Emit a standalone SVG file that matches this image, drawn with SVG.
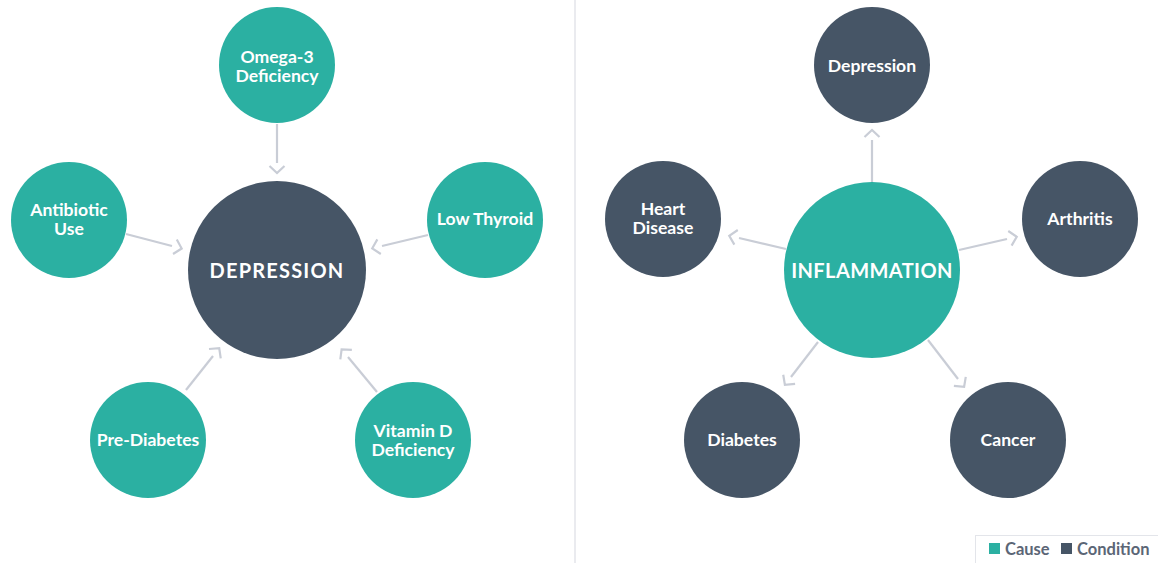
<svg xmlns="http://www.w3.org/2000/svg" width="1158" height="563" viewBox="0 0 1158 563">
<defs>
<style>
.cause{fill:#2bb0a2}
.cond{fill:#465566}
.lbl{font-family:Lato,"Open Sans","Liberation Sans",sans-serif;font-weight:bold;font-size:17.6px;fill:#ffffff;text-anchor:middle}
.big{font-family:Lato,"Open Sans","Liberation Sans",sans-serif;font-weight:bold;font-size:20px;letter-spacing:1.2px;fill:#ffffff;text-anchor:middle}
.conn line{stroke:#c9cdd6;stroke-width:2.2;marker-end:url(#chev)}
.leg{font-family:Lato,"Open Sans","Liberation Sans",sans-serif;font-weight:bold;font-size:16.5px;fill:#5b6676}
</style>
<marker id="chev" markerUnits="userSpaceOnUse" markerWidth="30" markerHeight="30" refX="0" refY="0" viewBox="-15 -15 30 30" orient="auto" overflow="visible">
<path d="M3,-7.5 L10,0 L3,7.5" fill="none" stroke="#c9cdd6" stroke-width="2.2"/>
</marker>
</defs>
<rect width="1158" height="563" fill="#ffffff"/>
<line x1="575" y1="0" x2="575" y2="563" stroke="#e3e5ea" stroke-width="1.5"/>
<g class="conn" id="connectors">
<line x1="277" y1="124" x2="277" y2="163"/>
<line x1="126" y1="234" x2="172" y2="246"/>
<line x1="428" y1="235" x2="382" y2="246"/>
<line x1="186" y1="390" x2="213" y2="356"/>
<line x1="377" y1="392" x2="348" y2="357"/>
<line x1="872" y1="182" x2="872" y2="140"/>
<line x1="786" y1="249" x2="739" y2="238"/>
<line x1="959" y1="250" x2="1007" y2="239"/>
<line x1="818" y1="342" x2="791" y2="377"/>
<line x1="928" y1="340" x2="958" y2="379"/>
</g>
<g id="depression-main"><circle class="cond" cx="277" cy="270" r="89"/><text class="big" x="277" y="278">DEPRESSION</text></g>
<g id="omega3"><circle class="cause" cx="277" cy="65" r="58"/><text class="lbl" x="277" y="63">Omega-3</text><text class="lbl" x="277" y="82">Deficiency</text></g>
<g id="antibiotic"><circle class="cause" cx="69" cy="220" r="58"/><text class="lbl" x="69" y="216">Antibiotic</text><text class="lbl" x="69" y="235">Use</text></g>
<g id="lowthyroid"><circle class="cause" cx="485" cy="220" r="58"/><text class="lbl" x="485" y="225">Low Thyroid</text></g>
<g id="prediabetes"><circle class="cause" cx="148" cy="440" r="58"/><text class="lbl" x="148" y="446">Pre-Diabetes</text></g>
<g id="vitamind"><circle class="cause" cx="413" cy="440" r="58"/><text class="lbl" x="413" y="437">Vitamin D</text><text class="lbl" x="413" y="456">Deficiency</text></g>
<g id="inflammation"><circle class="cause" cx="872" cy="270" r="88"/><text class="big" x="872" y="278" style="letter-spacing:0.4px">INFLAMMATION</text></g>
<g id="depression-cond"><circle class="cond" cx="872" cy="65" r="58"/><text class="lbl" x="872" y="72">Depression</text></g>
<g id="heartdisease"><circle class="cond" cx="663" cy="219" r="58"/><text class="lbl" x="663" y="215">Heart</text><text class="lbl" x="663" y="234">Disease</text></g>
<g id="arthritis"><circle class="cond" cx="1080" cy="219" r="58"/><text class="lbl" x="1080" y="225">Arthritis</text></g>
<g id="diabetes"><circle class="cond" cx="742" cy="440" r="58"/><text class="lbl" x="742" y="446">Diabetes</text></g>
<g id="cancer"><circle class="cond" cx="1008" cy="440" r="58"/><text class="lbl" x="1008" y="446">Cancer</text></g>
<g id="legend">
<rect x="975.5" y="535.5" width="190" height="30" fill="#ffffff" stroke="#e3e5ea" stroke-width="1"/>
<rect x="989" y="543" width="11" height="11" class="cause"/>
<text class="leg" x="1005" y="555">Cause</text>
<rect x="1061" y="543" width="11" height="11" class="cond"/>
<text class="leg" x="1077" y="555">Condition</text>
</g>
</svg>
